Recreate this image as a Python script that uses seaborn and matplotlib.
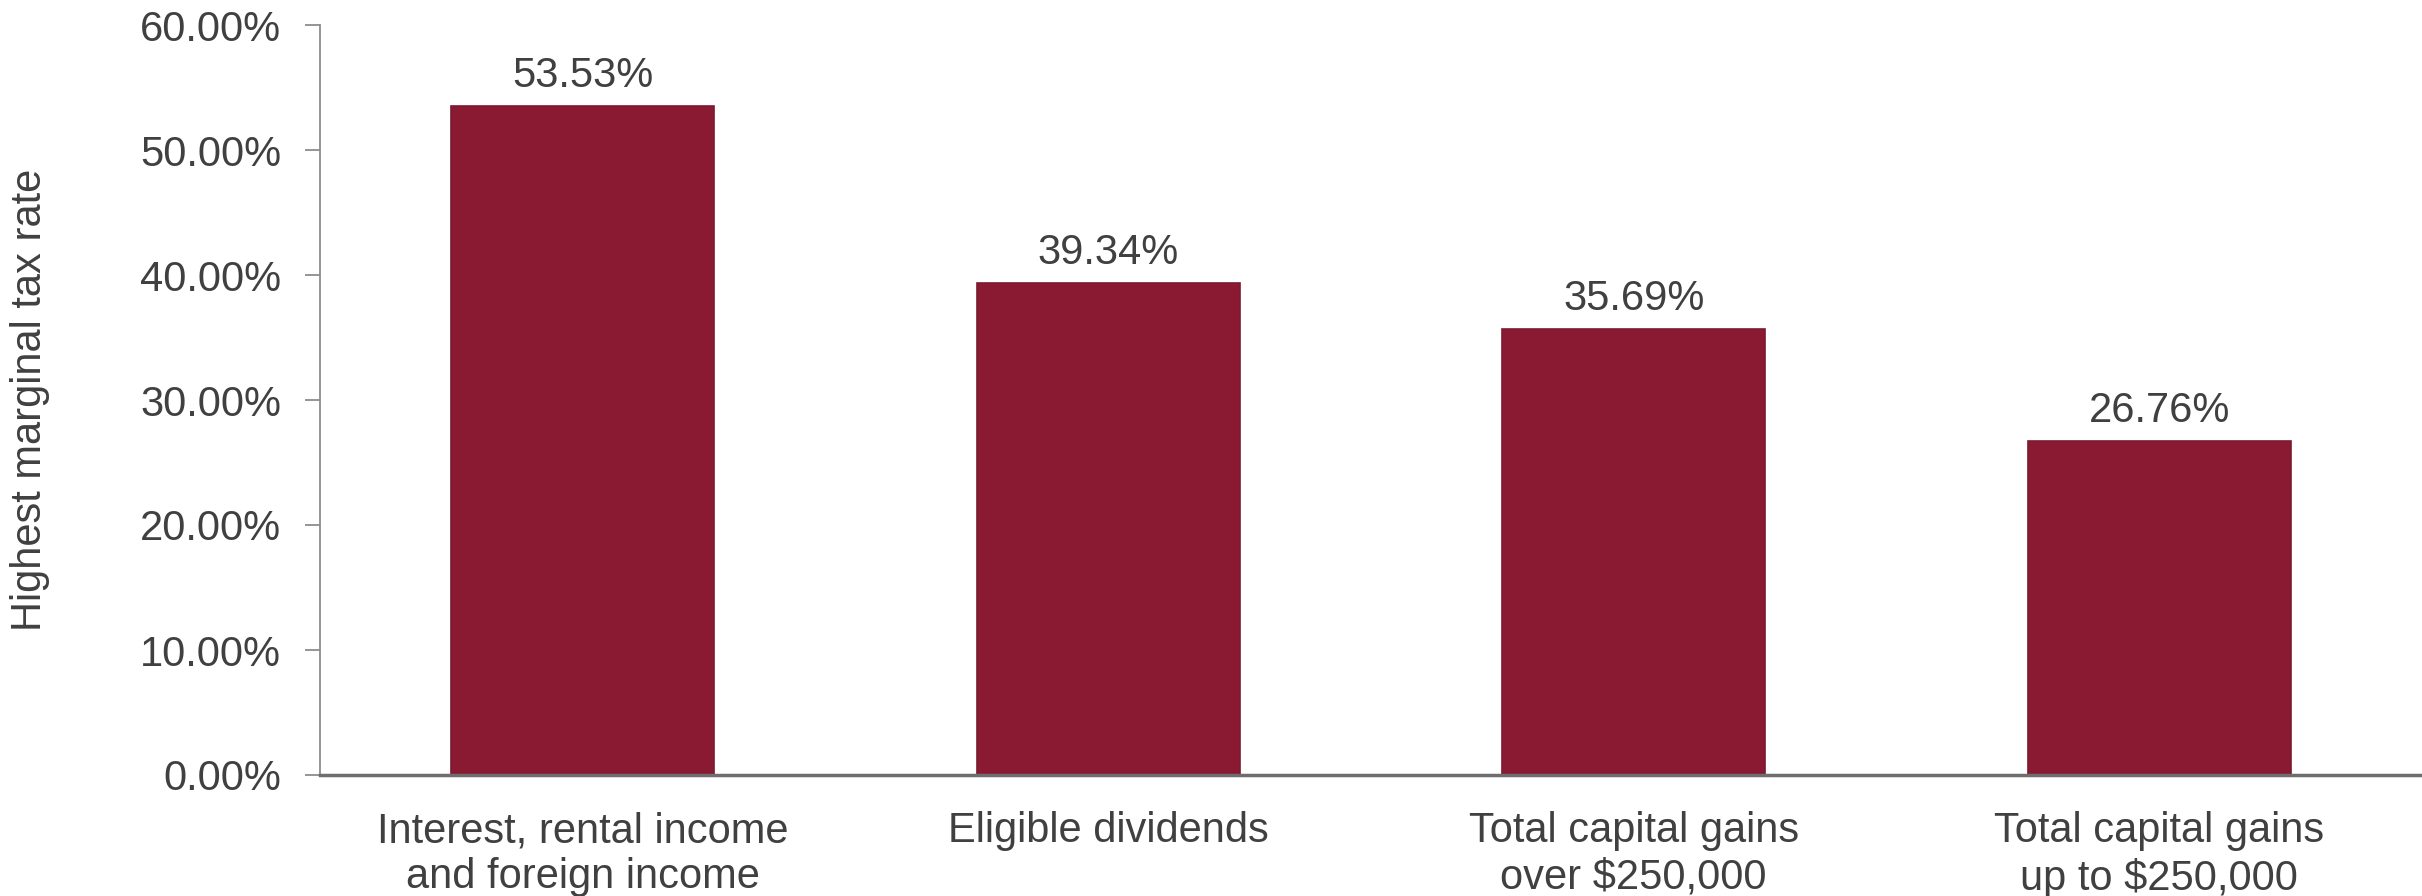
import matplotlib
matplotlib.use("Agg")
import matplotlib.pyplot as plt
import seaborn as sns
import pandas as pd
from matplotlib.ticker import FuncFormatter, MultipleLocator

categories = ["Interest, rental income\nand foreign income",
              "Eligible dividends",
              "Total capital gains\nover $250,000",
              "Total capital gains\nup to $250,000"]
rates = [53.53, 39.34, 35.69, 26.76]
y_label = "Highest marginal tax rate"

sns.set_theme(style="white")
plt.rcParams['font.family'] = ['Liberation Sans', 'DejaVu Sans']

df = pd.DataFrame({"cat": categories, "rate": rates})

fig = plt.figure(figsize=(24.22, 8.96), dpi=100)
ax = fig.add_axes([320/2422, 1 - 775/896, 1 - 320/2422, 750/896])

sns.barplot(data=df, x="cat", y="rate", color="#891A32", width=0.5,
            saturation=1, edgecolor="#7a1a30", linewidth=1.2, ax=ax)

ax.set_xlim(-0.5, 3.5)
ax.set_ylim(0, 60)
ax.yaxis.set_major_locator(MultipleLocator(10))
ax.yaxis.set_major_formatter(FuncFormatter(lambda v, p: f"{v:.2f}%"))

txtc = "#404040"
fs = 30
for i, v in enumerate(rates):
    ax.text(i, v + 0.8, f"{v:.2f}%", ha="center", va="bottom",
            fontsize=fs, color=txtc)

for s in ["top", "right"]:
    ax.spines[s].set_visible(False)
ax.spines["left"].set_color("#8c8c8c")
ax.spines["left"].set_linewidth(1.3)
ax.spines["bottom"].set_color("#6e6e6e")
ax.spines["bottom"].set_linewidth(2.5)

ax.tick_params(axis="y", which="major", left=True, length=11, width=1.3,
               color="#8c8c8c", labelsize=fs, labelcolor=txtc, pad=17)
ax.tick_params(axis="x", bottom=False, labelsize=fs, labelcolor=txtc, pad=20)

ax.set_xlabel("")
ax.set_ylabel(y_label, fontsize=fs, color=txtc)
ax.yaxis.set_label_coords(-0.1285, 0.5)
ax.grid(False)

fig.savefig("out.png", dpi=100)
